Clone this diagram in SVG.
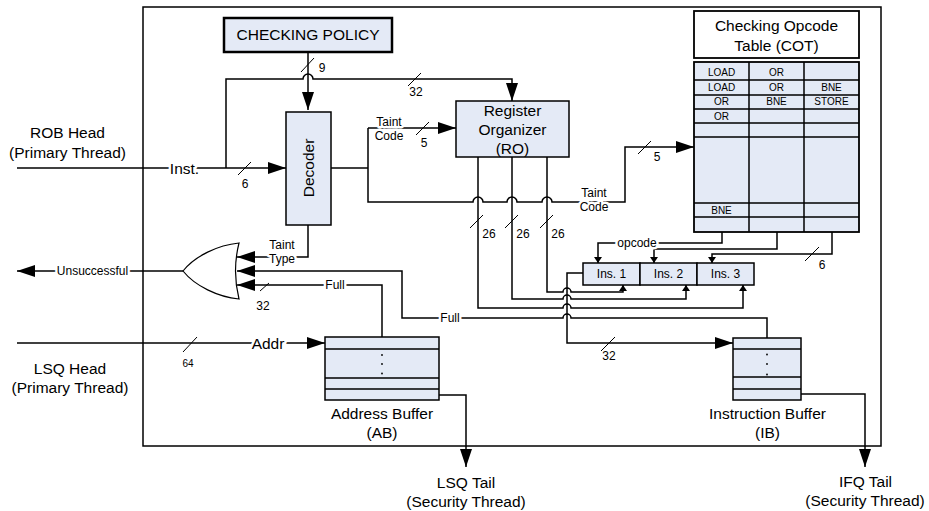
<svg xmlns="http://www.w3.org/2000/svg" width="929" height="511" viewBox="0 0 929 511">
<style>
.box{fill:#e4eaf6;stroke:#000;stroke-width:1.5}
.ln{fill:none;stroke:#000;stroke-width:1.5}
.sl{fill:none;stroke:#000;stroke-width:1}
.t{font-family:"Liberation Sans",Arial,sans-serif;fill:#000;text-anchor:middle}
.big{font-size:15.5px}
.sm{font-size:12px}
.xs{font-size:10px}
.halo{stroke:#fff;stroke-width:5px;paint-order:stroke;stroke-linejoin:round}
.arr{marker-end:url(#ah)}
.sarr{marker-end:url(#sah)}
</style>
<defs>
<marker id="ah" viewBox="0 0 18 12" refX="18" refY="6" markerWidth="18" markerHeight="12" markerUnits="userSpaceOnUse" orient="auto"><path d="M0,0 L18,6 L0,12 z" fill="#000"/></marker>
<marker id="sah" viewBox="0 0 6 8" refX="6" refY="4" markerWidth="6" markerHeight="8" markerUnits="userSpaceOnUse" orient="auto"><path d="M0,0 L6,4 L0,8 z" fill="#000"/></marker>
</defs>
<rect width="929" height="511" fill="#fff"/>
<g id="frame"><rect x="143" y="7" width="738" height="439" fill="none" stroke="#000" stroke-width="1.5"/></g>

<g id="connectors">
<path class="ln arr" d="M308,52 L308,110"/>
<path class="ln arr" d="M226,168 L226,79 L303,79 A5,5 0 0 1 313,79 L512,79 L512,101"/>
<path class="ln arr" d="M17,168 L286,168"/>
<path class="ln" d="M331,168 L368,168"/>
<path class="ln arr" d="M368,128 L456,128"/>
<path class="ln arr" d="M368,128 L368,202 L473,202 A5,5 0 0 1 483,202 L507,202 A5,5 0 0 1 517,202 L542,202 A5,5 0 0 1 552,202 L625,202 L625,147 L694,147"/>
<path class="ln sarr" d="M547,157 L547,292 L563,292 A4,4 0 0 1 571,292 L623,292 L623,285"/>
<path class="ln sarr" d="M512,157 L512,299 L563,299 A4,4 0 0 1 571,299 L686,299 L686,285"/>
<path class="ln sarr" d="M478,157 L478,308 L563,308 A4,4 0 0 1 571,308 L743,308 L743,285"/>
<path class="ln arr" d="M583,273 L567,273 L567,343 L733,343"/>
<path class="ln arr" d="M767,338 L767,318 L571,318 A4,4 0 0 0 563,318 L402,318 L402,271 L237,271"/>
<path class="ln arr" d="M382,337 L382,285 L237,285"/>
<path class="ln arr" d="M308,225 L308,257 L237,257"/>
<path class="ln arr" d="M183,271 L17,271"/>
<path class="ln arr" d="M17,343 L325,343"/>
<path class="ln arr" d="M439,395 L466,395 L466,467"/>
<path class="ln arr" d="M801,394 L865,394 L865,467"/>
<path class="ln sarr" d="M722,232 L722,243 L598,243 L598,263"/>
<path class="ln sarr" d="M777,232 L777,249 L654,249 L654,263"/>
<path class="ln sarr" d="M832,232 L832,254 L712,254 L712,263"/>
<!-- bus slashes -->
<path class="sl" d="M301,72 L314,58 M408,86 L421,73 M238,175 L251,162 M416,135 L429,122 M638,154 L651,141 M470,228 L483,215 M505,228 L518,215 M540,228 L553,215 M805,261 L819,247 M260,291 L269,283 M183,352 L197,337 M601,351 L615,337"/>
<!-- connector labels -->
<text class="t sm" x="322" y="72">9</text>
<text class="t sm" x="416" y="96">32</text>
<text class="t sm" x="245" y="188">6</text>
<text class="t sm" x="424" y="147">5</text>
<text class="t sm" x="657" y="161">5</text>
<text class="t sm" x="489" y="238">26</text>
<text class="t sm" x="523" y="238">26</text>
<text class="t sm" x="558" y="238">26</text>
<text class="t sm" x="822" y="269">6</text>
<text class="t sm" x="263" y="310">32</text>
<text class="t xs" x="188" y="367">64</text>
<text class="t sm" x="609" y="360">32</text>
<text class="t big halo" x="184.5" y="173.5">Inst.</text>
<text class="t big halo" x="268" y="348.5">Addr</text>
<text class="t sm halo" x="92.5" y="275">Unsuccessful</text>
<text class="t sm halo" x="637" y="247">opcode</text>
<text class="t sm halo" x="335" y="289">Full</text>
<text class="t sm halo" x="450" y="322">Full</text>
<text class="t sm halo" x="389" y="126">Taint</text>
<text class="t sm halo" x="389" y="140">Code</text>
<text class="t sm halo" x="594" y="197">Taint</text>
<text class="t sm halo" x="594" y="211">Code</text>
<text class="t sm halo" x="282" y="249">Taint</text>
<text class="t sm halo" x="282" y="263">Type</text>
</g>

<g id="checking-policy">
<rect x="224" y="18" width="168" height="34" fill="#e4eaf6" stroke="#000" stroke-width="2.5"/>
<text class="t big" x="308" y="39.5">CHECKING POLICY</text>
</g>

<g id="decoder">
<rect class="box" x="286" y="112" width="45" height="113"/>
<text class="t big" x="308.5" y="173.5" transform="rotate(-90 308.5 168)">Decoder</text>
</g>

<g id="register-organizer">
<rect class="box" x="456" y="101" width="113" height="56"/>
<text class="t big" x="512.5" y="115.5">Register</text>
<text class="t big" x="512.5" y="134.5">Organizer</text>
<text class="t big" x="512.5" y="153.5">(RO)</text>
</g>

<g id="cot">
<rect x="694" y="11" width="165" height="47" fill="#fff" stroke="#000" stroke-width="1.8"/>
<text class="t big" x="776.5" y="30.5">Checking Opcode</text>
<text class="t big" x="776.5" y="51">Table (COT)</text>
<rect x="694" y="62" width="165" height="170" fill="#e4eaf6" stroke="#000" stroke-width="1.8"/>
<path fill="none" stroke="#000" stroke-width="1.5" d="M749,62 V232 M804,62 V232 M694,80 H859 M694,95 H859 M694,109 H859 M694,123 H859 M694,137 H859 M694,203 H859 M694,217 H859"/>
<text class="t xs" x="721.5" y="75.5">LOAD</text>
<text class="t xs" x="776.5" y="75.5">OR</text>
<text class="t xs" x="721.5" y="91">LOAD</text>
<text class="t xs" x="776.5" y="91">OR</text>
<text class="t xs" x="831.5" y="91">BNE</text>
<text class="t xs" x="721.5" y="105">OR</text>
<text class="t xs" x="776.5" y="105">BNE</text>
<text class="t xs" x="831.5" y="105">STORE</text>
<text class="t xs" x="721.5" y="119.5">OR</text>
<text class="t xs" x="721.5" y="213.5">BNE</text>
</g>

<g id="ins-1"><rect class="box" x="583" y="263" width="57" height="22"/><text class="t sm" x="611.5" y="278">Ins. 1</text></g>
<g id="ins-2"><rect class="box" x="640" y="263" width="57" height="22"/><text class="t sm" x="668.5" y="278">Ins. 2</text></g>
<g id="ins-3"><rect class="box" x="697" y="263" width="57" height="22"/><text class="t sm" x="725.5" y="278">Ins. 3</text></g>

<g id="or-gate">
<path d="M239,243 C218,245 195,256 183,271 C195,286 218,297 239,299 Q232,271 239,243 z" fill="#fff" stroke="#000" stroke-width="1.2"/>
</g>

<g id="address-buffer">
<rect class="box" x="325" y="337" width="114" height="63"/>
<path fill="none" stroke="#000" stroke-width="1.5" d="M325,349 H439 M325,378 H439 M325,389 H439"/>
<circle cx="382" cy="355" r="0.9"/><circle cx="382" cy="364" r="0.9"/><circle cx="382" cy="373.5" r="0.9"/>
<text class="t big" x="382" y="418.5">Address Buffer</text>
<text class="t big" x="382" y="437.5">(AB)</text>
</g>

<g id="instruction-buffer">
<rect class="box" x="733" y="338" width="68" height="62"/>
<path fill="none" stroke="#000" stroke-width="1.5" d="M733,349 H801 M733,377 H801 M733,389 H801"/>
<circle cx="767" cy="354.5" r="0.9"/><circle cx="767" cy="364" r="0.9"/><circle cx="767" cy="374.5" r="0.9"/>
<text class="t big" x="767.5" y="418.5">Instruction Buffer</text>
<text class="t big" x="767.5" y="438">(IB)</text>
</g>

<g id="rob-head">
<text class="t big" x="67.5" y="137.5">ROB Head</text>
<text class="t big" x="67.5" y="157.5">(Primary Thread)</text>
</g>
<g id="lsq-head">
<text class="t big" x="70" y="373.5">LSQ Head</text>
<text class="t big" x="70" y="392.5">(Primary Thread)</text>
</g>
<g id="lsq-tail">
<text class="t big" x="466" y="487.5">LSQ Tail</text>
<text class="t big" x="466" y="506.5">(Security Thread)</text>
</g>
<g id="ifq-tail">
<text class="t big" x="865.5" y="486.5">IFQ Tail</text>
<text class="t big" x="865" y="505.5">(Security Thread)</text>
</g>
</svg>
